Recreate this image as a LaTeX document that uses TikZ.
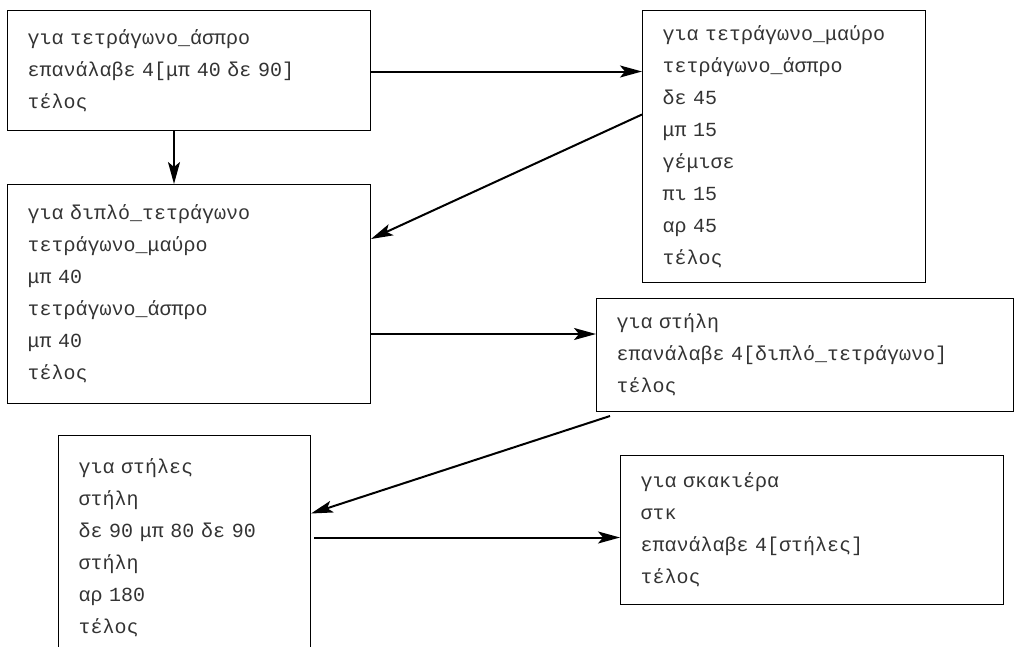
\documentclass[tikz,border=0pt]{standalone}
\usepackage{fontspec}
\setmonofont{Liberation Mono}
\usetikzlibrary{arrows.meta, positioning}

\begin{document}
\begin{tikzpicture}[x=1pt, y=-1pt]
\tikzstyle{proc} = [rectangle, draw=black, line width=1pt, anchor=north west, align=left, inner xsep=20pt, inner ysep=0pt, font=\ttfamily\fontsize{20}{32}\selectfont, text=black!80]
\tikzstyle{link} = [-{Stealth[length=22pt, width=12pt, inset=5pt]}, line width=2pt]

\clip (0,0) rectangle (1015,646);

\node (aspro) [proc, text width=323pt, minimum height=120pt] at (7,10) {για τετράγωνο\_άσπρο\\επανάλαβε 4[μπ 40 δε 90]\\τέλος};
\node (mavro) [proc, text width=243pt, minimum height=272pt] at (642,10) {για τετράγωνο\_μαύρο\\τετράγωνο\_άσπρο\\δε 45\\μπ 15\\γέμισε\\πι 15\\αρ 45\\τέλος};
\node (diplo) [proc, text width=323pt, minimum height=219pt] at (7,184) {για διπλό\_τετράγωνο\\τετράγωνο\_μαύρο\\μπ 40\\τετράγωνο\_άσπρο\\μπ 40\\τέλος};
\node (stili) [proc, text width=377pt, minimum height=113pt] at (596,298) {για στήλη\\επανάλαβε 4[διπλό\_τετράγωνο]\\τέλος};
\node (stiles) [proc, text width=212pt, minimum height=224pt] at (58,435) {για στήλες\\στήλη\\δε 90 μπ 80 δε 90\\στήλη\\αρ 180\\τέλος};
\node (skakiera) [proc, text width=343pt, minimum height=149pt] at (620,455) {για σκακιέρα\\στκ\\επανάλαβε 4[στήλες]\\τέλος};

\draw[link] ([yshift=-1pt]aspro.east) -- ([yshift=-1pt]aspro.east -| mavro.west);
\draw[link] ([xshift=-15pt]aspro.south) -- ([xshift=-15pt]aspro.south |- diplo.north);
\draw[link] ([yshift=32pt]mavro.west) -- ([yshift=55pt]diplo.east);
\draw[link] ([yshift=-40pt]diplo.east) -- ([yshift=-40pt]diplo.east -| stili.west);
\draw[link] ([xshift=14pt, yshift=-4pt]stili.south west) -- ([yshift=34pt]stiles.east);
\draw[link] ([xshift=3pt, yshift=10pt]stiles.east) -- ([yshift=10pt]stiles.east -| skakiera.west);

\end{tikzpicture}
\end{document}
